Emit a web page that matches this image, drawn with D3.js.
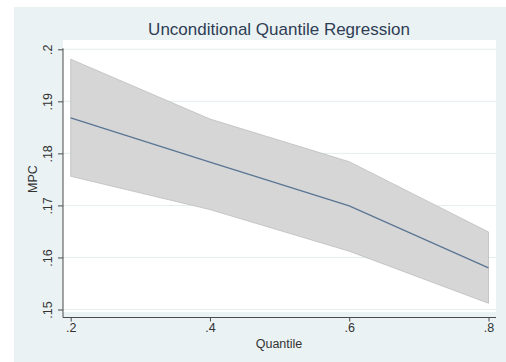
<!DOCTYPE html>
<html><head><meta charset="utf-8">
<script src="https://cdn.jsdelivr.net/npm/d3@7"></script>
<style>html,body{margin:0;padding:0;background:#fff;}svg{display:block;}</style>
</head><body>
<script>
const quantiles = [0.2, 0.4, 0.6, 0.8];
const mpc   = [0.1868, 0.1783, 0.1699, 0.1580];
const upper = [0.1981, 0.1866, 0.1784, 0.1649];
const lower = [0.1756, 0.1692, 0.1612, 0.1512];
const xTicks = [0.2, 0.4, 0.6, 0.8];
const xTickLabels = [".2", ".4", ".6", ".8"];
const yTicks = [0.15, 0.16, 0.17, 0.18, 0.19, 0.2];
const yTickLabels = [".15", ".16", ".17", ".18", ".19", ".2"];
const title = "Unconditional Quantile Regression";
const xTitle = "Quantile";
const yTitle = "MPC";

const W = 506, H = 362;
const svg = d3.select("body").append("svg").attr("width", W).attr("height", H);
const font = "Liberation Sans, Arial, sans-serif";

svg.append("rect").attr("x", 14).attr("y", 7).attr("width", W - 14).attr("height", H - 7).attr("fill", "#eaf2f3");

const x = d3.scaleLinear().domain([0.2, 0.8]).range([70.7, 488.5]);
const y = d3.scaleLinear().domain([0.15, 0.2]).range([309.5, 49.3]);

// plot region
svg.append("rect").attr("x", 63).attr("y", 40).attr("width", 433).attr("height", 272).attr("fill", "#fff");

// gridlines
svg.append("g").selectAll("line").data(yTicks).join("line")
  .attr("x1", 63).attr("x2", 496)
  .attr("y1", d => y(d)).attr("y2", d => y(d))
  .attr("stroke", "#e4eeef").attr("stroke-width", 1);

// band
const idx = d3.range(quantiles.length);
const area = d3.area().x(i => x(quantiles[i])).y0(i => y(lower[i])).y1(i => y(upper[i]));
svg.append("path").datum(idx).attr("d", area)
  .attr("fill", "#d6d6d6").attr("stroke", "#bcbcbc").attr("stroke-width", 0.8);

// line
const line = d3.line().x(i => x(quantiles[i])).y(i => y(mpc[i]));
svg.append("path").datum(idx).attr("d", line)
  .attr("fill", "none").attr("stroke", "#5a7593").attr("stroke-width", 1.3);

// y axis
const yAxis = d3.axisLeft(y).tickValues(yTicks).tickFormat((d, i) => yTickLabels[i]).tickSize(5).tickPadding(4);
const gy = svg.append("g").attr("transform", "translate(63,0)").call(yAxis);
gy.select(".domain").attr("d", `M0,${y(0.2)-1}V317.5`).attr("stroke", "#4a4a4a");
gy.selectAll(".tick line").attr("stroke", "#4a4a4a");
gy.selectAll(".tick text")
  .attr("x", 0).attr("y", 0).attr("dy", 0)
  .attr("text-anchor", "middle")
  .attr("transform", "translate(-11,0) rotate(-90)")
  .style("font-family", font).style("font-size", "12.5px").attr("fill", "#333");

// x axis
const xAxis = d3.axisBottom(x).tickValues(xTicks).tickFormat((d, i) => xTickLabels[i]).tickSize(4).tickPadding(2);
const gx = svg.append("g").attr("transform", "translate(0,317.5)").call(xAxis);
gx.select(".domain").attr("d", "M63,0H496").attr("stroke", "#4a4a4a");
gx.selectAll(".tick line").attr("stroke", "#4a4a4a");
gx.selectAll(".tick text").style("font-family", font).style("font-size", "12.5px").attr("fill", "#333");

// titles
svg.append("text").attr("x", 279).attr("y", 35).attr("text-anchor", "middle")
  .style("font-family", font).style("font-size", "17px").attr("fill", "#2e3d55").text(title);
svg.append("text").attr("x", 279).attr("y", 348).attr("text-anchor", "middle")
  .style("font-family", font).style("font-size", "12.5px").attr("fill", "#333").text(xTitle);
svg.append("text").attr("transform", "translate(37,179) rotate(-90)").attr("text-anchor", "middle")
  .style("font-family", font).style("font-size", "12.5px").attr("fill", "#333").text(yTitle);
</script>
</body></html>
